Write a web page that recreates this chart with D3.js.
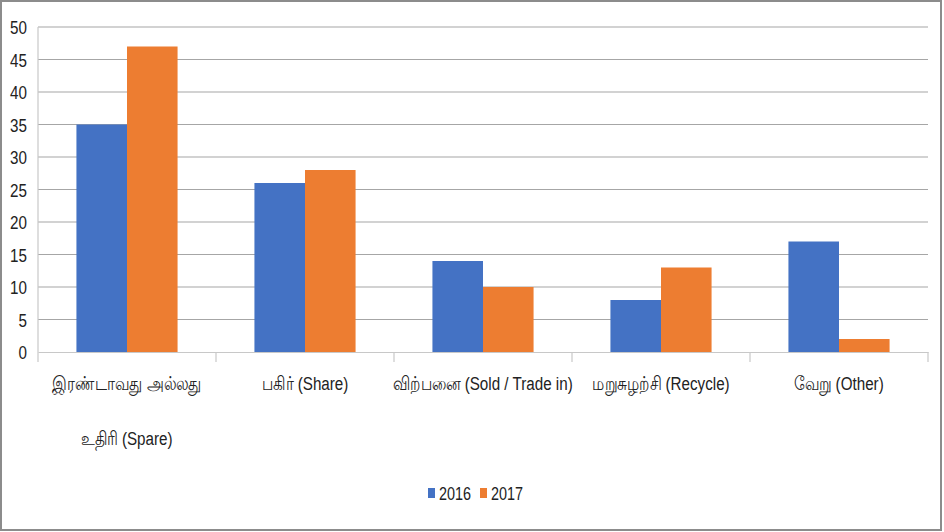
<!DOCTYPE html>
<html><head><meta charset="utf-8">
<script src="https://cdn.jsdelivr.net/npm/d3@7"></script>
<style>
body{margin:0;background:#fff;}
svg{display:block;}
text{font-family:"Liberation Sans","Arial",sans-serif;fill:#222;}
</style></head>
<body>
<script>
const categories = [
  ["இரண்டாவது அல்லது", "உதிரி (Spare)"],
  ["பகிர் (Share)"],
  ["விற்பனை (Sold / Trade in)"],
  ["மறுசுழற்சி (Recycle)"],
  ["வேறு (Other)"]
];
const series = ["2016", "2017"];
const values2016 = [35, 26, 14, 8, 17];
const values2017 = [47, 28, 10, 13, 2];
const yTicks = [0,5,10,15,20,25,30,35,40,45,50];
const colors = ["#4472C4", "#ED7D31"];

const W = 944, H = 532;
const m = {left:38, right:16, top:27, bottom:180};
const SX = 0.8;
const svg = d3.select("body").append("svg").attr("width", W).attr("height", H);

svg.append("rect").attr("x",1).attr("y",1).attr("width",W-4).attr("height",H-3)
  .attr("fill","#fff").attr("stroke","#8c8c8c").attr("stroke-width",2);

const x = d3.scaleBand().domain(d3.range(categories.length)).range([m.left, W-m.right]).padding(0);
const xs = d3.scaleBand().domain(series).range([0, x.bandwidth()]).paddingInner(0).paddingOuter(0.76);
const y = d3.scaleLinear().domain([0,50]).range([H-m.bottom, m.top]);

// gridlines
svg.append("g").selectAll("line").data(yTicks.slice(1)).join("line")
  .attr("x1", m.left).attr("x2", W-m.right)
  .attr("y1", d=>y(d)).attr("y2", d=>y(d))
  .attr("stroke","#a6a6a6").attr("stroke-width",1.2);

// left axis line
svg.append("line").attr("x1",m.left).attr("x2",m.left).attr("y1",y(50)).attr("y2",y(0))
  .attr("stroke","#c8c8c8").attr("stroke-width",1.2);

// y axis labels
const gy = svg.append("g");
gy.selectAll("text").data(yTicks).join("text")
  .attr("text-anchor","end").attr("font-size",19)
  .attr("transform", d=>`translate(${m.left-11},${y(d)+7}) scale(${SX},1)`)
  .text(d=>d);

// bars
const data = categories.map((c,i)=>({i, vals:[values2016[i], values2017[i]]}));
const groups = svg.append("g").selectAll("g").data(data).join("g")
  .attr("transform", d=>`translate(${x(d.i)},0)`);
groups.selectAll("rect").data(d=>d.vals.map((v,k)=>({k,v}))).join("rect")
  .attr("x", d=>xs(series[d.k])).attr("width", xs.bandwidth())
  .attr("y", d=>y(d.v)).attr("height", d=>y(0)-y(d.v))
  .attr("fill", d=>colors[d.k]);

// x axis
const xAxis = d3.axisBottom(x).tickSize(0).tickFormat("");
const gx = svg.append("g").attr("transform",`translate(0,${y(0)})`).call(xAxis);
gx.select(".domain").attr("stroke","#c8c8c8").attr("stroke-width",1.2);
const bounds = d3.range(categories.length+1).map(i=> i<categories.length ? x(i) : x(categories.length-1)+x.bandwidth());
gx.selectAll(".bt").data(bounds).join("line").attr("class","bt")
  .attr("x1",d=>d).attr("x2",d=>d).attr("y1",0).attr("y2",10)
  .attr("stroke","#c8c8c8").attr("stroke-width",1.2);

// category labels
const lab = svg.append("g").selectAll("text").data(categories).join("text")
  .attr("text-anchor","middle").attr("font-size",19)
  .attr("transform",(d,i)=>`translate(${x(i)+x.bandwidth()/2},390) scale(${SX},1)`);
lab.selectAll("tspan").data(d=>d).join("tspan")
  .attr("x", 0).attr("dy",(d,j)=> j===0?0:55).text(d=>d);

// legend
const leg = svg.append("g").attr("transform","translate(428,493)");
const li = leg.selectAll("g").data(series).join("g").attr("transform",(d,i)=>`translate(${i*52},0)`);
li.append("rect").attr("x",0).attr("y",-5).attr("width",7).attr("height",10).attr("fill",(d,i)=>colors[i]);
li.append("text").attr("transform","translate(11,6.5) scale(0.8,1)").attr("font-size",18).text(d=>d);
</script>
</body></html>
